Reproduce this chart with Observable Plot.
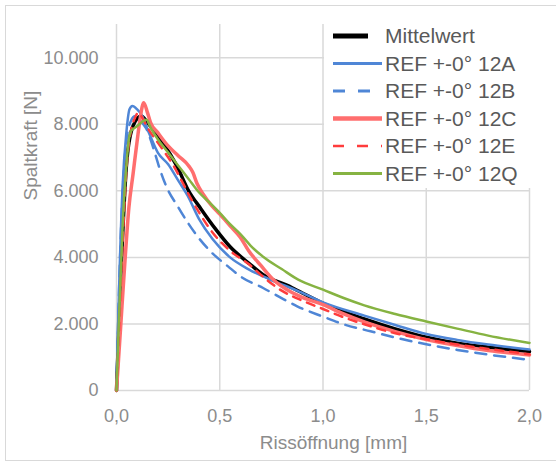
<!DOCTYPE html>
<html>
<head>
<meta charset="utf-8">
<script src="https://cdn.jsdelivr.net/npm/d3@7"></script>
<script src="https://cdn.jsdelivr.net/npm/@observablehq/plot@0.6"></script>
<style>
  body { margin: 0; background: #fff; }
  #chart { position: relative; width: 556px; height: 462px; overflow: hidden; font-family: "Liberation Sans", sans-serif; }
  #frame { position: absolute; left: 5px; top: 5px; width: 600px; height: 456px; border: 1.5px solid #d9d9d9; box-sizing: border-box; }
  #chart svg { position: absolute; left: 0; top: 0; }
</style>
</head>
<body>
<div id="chart"><div id="frame"></div></div>
<script>
// Axis ticks and their German-formatted labels
const xTicks = [0, 0.5, 1, 1.5, 2];
const xTickLabels = ["0,0", "0,5", "1,0", "1,5", "2,0"];
const yTicks = [0, 2000, 4000, 6000, 8000, 10000];
const yTickLabels = ["0", "2.000", "4.000", "6.000", "8.000", "10.000"];

// Series names (legend order)
const seriesNames = ["Mittelwert", "REF +-0° 12A", "REF +-0° 12B", "REF +-0° 12C", "REF +-0° 12E", "REF +-0° 12Q"];

// Crack opening [mm] and splitting force [N] per specimen
const mittelwertX = [0, 0.02, 0.05, 0.08, 0.12, 0.15, 0.2, 0.26, 0.3, 0.345, 0.41, 0.48, 0.55, 0.65, 0.71, 0.83, 0.9, 1.0, 1.2, 1.35, 1.5, 1.65, 1.8, 2.0];
const mittelwertY = [0, 3300, 6900, 7950, 8250, 8050, 7650, 7100, 6650, 6050, 5450, 4850, 4320, 3780, 3480, 3150, 2930, 2620, 2150, 1850, 1600, 1420, 1300, 1170];

const ref12AX = [0, 0.01, 0.03, 0.047, 0.063, 0.077, 0.1, 0.12, 0.16, 0.2, 0.25, 0.3, 0.345, 0.4, 0.465, 0.55, 0.64, 0.75, 0.875, 1.0, 1.2, 1.35, 1.5, 1.65, 1.8, 2.0];
const ref12AY = [0, 2500, 6200, 7700, 8450, 8550, 8450, 8300, 7700, 7150, 6800, 6300, 5850, 5150, 4550, 4000, 3640, 3320, 3000, 2650, 2250, 1970, 1700, 1520, 1380, 1230];

const ref12BX = [0, 0.01, 0.03, 0.05, 0.07, 0.09, 0.11, 0.13, 0.15, 0.17, 0.19, 0.21, 0.24, 0.3, 0.35, 0.39, 0.46, 0.54, 0.6, 0.71, 0.81, 0.875, 1.0, 1.1, 1.23, 1.35, 1.5, 1.65, 1.8, 2.0];
const ref12BY = [0, 2500, 6000, 7600, 8100, 8250, 8150, 8000, 7800, 7450, 7050, 6650, 6150, 5500, 5000, 4650, 4150, 3730, 3430, 3080, 2740, 2530, 2220, 1990, 1780, 1590, 1390, 1220, 1080, 920];

const ref12CX = [0, 0.02, 0.04, 0.06, 0.08, 0.1, 0.115, 0.132, 0.15, 0.165, 0.2, 0.25, 0.3, 0.35, 0.37, 0.39, 0.42, 0.46, 0.5, 0.55, 0.6, 0.64, 0.7, 0.76, 0.82, 0.9, 1.0, 1.1, 1.2, 1.35, 1.5, 1.65, 1.8, 2.0];
const ref12CY = [0, 1900, 3800, 5500, 6500, 7500, 8200, 8650, 8350, 8050, 7750, 7350, 7050, 6750, 6550, 6220, 5900, 5560, 5300, 4950, 4600, 4200, 3750, 3330, 3050, 2800, 2580, 2300, 2060, 1770, 1530, 1350, 1200, 1070];

const ref12EX = [0, 0.01, 0.03, 0.05, 0.07, 0.09, 0.105, 0.12, 0.15, 0.2, 0.24, 0.276, 0.32, 0.362, 0.41, 0.465, 0.55, 0.64, 0.713, 0.8, 0.9, 1.0, 1.1, 1.2, 1.35, 1.5, 1.65, 1.8, 2.0];
const ref12EY = [0, 1500, 4500, 6800, 7800, 8200, 8350, 8250, 7900, 7450, 7100, 6760, 6250, 5750, 5250, 4750, 4200, 3800, 3400, 3000, 2700, 2450, 2200, 1990, 1720, 1540, 1380, 1250, 1090];

const ref12QX = [0, 0.01, 0.03, 0.047, 0.06, 0.071, 0.09, 0.11, 0.13, 0.145, 0.165, 0.2, 0.25, 0.3, 0.35, 0.4, 0.45, 0.5, 0.55, 0.6, 0.65, 0.71, 0.8, 0.88, 1.0, 1.1, 1.2, 1.35, 1.5, 1.65, 1.8, 2.0];
const ref12QY = [0, 1800, 5000, 6700, 7550, 7800, 7900, 8000, 8100, 8140, 7900, 7550, 7150, 6750, 6350, 5950, 5650, 5340, 5000, 4700, 4350, 4020, 3650, 3330, 3030, 2780, 2560, 2300, 2075, 1860, 1650, 1430];

const seriesX = [mittelwertX, ref12AX, ref12BX, ref12CX, ref12EX, ref12QX];
const seriesY = [mittelwertY, ref12AY, ref12BY, ref12CY, ref12EY, ref12QY];

// Line styles per series
const styles = [
  {stroke: "#000000", strokeWidth: 3.5, dash: null,    legendWidth: 5,   legendEnd: 368},
  {stroke: "#4f86d6", strokeWidth: 2.5, dash: null,    legendWidth: 3,   legendEnd: 382},
  {stroke: "#4f86d6", strokeWidth: 2.5, dash: "11,8",  legendWidth: 3,   legendEnd: 382, legendDash: "12,13"},
  {stroke: "#ff6e6e", strokeWidth: 3.5, dash: null,    legendWidth: 4.5, legendEnd: 382},
  {stroke: "#ff3c3c", strokeWidth: 2.5, dash: "8,7",   legendWidth: 2.5, legendEnd: 382, legendDash: "11,13"},
  {stroke: "#86b342", strokeWidth: 2.5, dash: null,    legendWidth: 3,   legendEnd: 382}
];

const rows = seriesNames.map((name, s) =>
  seriesX[s].map((x, i) => ({series: name, x, y: seriesY[s][i]}))
);

const fmt = (ticks, labels) => d => labels[ticks.indexOf(d)];

const lineMarks = rows.map((data, s) =>
  Plot.line(data, {
    x: "x", y: "y",
    stroke: styles[s].stroke,
    strokeWidth: styles[s].strokeWidth,
    strokeDasharray: styles[s].dash,
    curve: "monotone-x",
    strokeLinejoin: "round"
  })
);

const chart = Plot.plot({
  width: 556,
  height: 462,
  marginLeft: 116,
  marginRight: 27,
  marginTop: 24,
  marginBottom: 72,
  style: {fontFamily: "Liberation Sans, sans-serif", fontSize: "18px", background: "transparent", overflow: "visible"},
  x: {domain: [0, 2]},
  y: {domain: [0, 11000]},
  marks: [
    Plot.gridY(yTicks, {stroke: "#d9d9d9", strokeOpacity: 1, strokeWidth: 1.5}),
    Plot.gridX(xTicks, {stroke: "#d9d9d9", strokeOpacity: 1, strokeWidth: 1.5}),
    Plot.axisY(yTicks, {tickSize: 0, tickPadding: 18, tickFormat: fmt(yTicks, yTickLabels), label: null, fill: "#8c8c8c", fontSize: 18}),
    Plot.axisX(xTicks, {tickSize: 0, tickPadding: 19, tickFormat: fmt(xTicks, xTickLabels), label: null, fill: "#8c8c8c", fontSize: 18}),
    Plot.text(["Spaltkraft [N]"], {frameAnchor: "left", dx: -86, dy: -7, rotate: -90, fill: "#8c8c8c", fontSize: 19}),
    Plot.text(["Rissöffnung [mm]"], {frameAnchor: "bottom", dx: 10.5, dy: 58, fill: "#8c8c8c", fontSize: 19}),
    ...lineMarks
  ]
});

const container = document.getElementById("chart");
container.appendChild(chart);

// Legend box drawn over the upper right of the plot area
const legend = d3.create("svg")
  .attr("width", 556)
  .attr("height", 462)
  .style("pointer-events", "none");

legend.append("rect")
  .attr("x", 324).attr("y", 22)
  .attr("width", 212).attr("height", 166)
  .attr("fill", "#ffffff");

const rowY = [36, 63.5, 91, 118.5, 146, 173.5];
seriesNames.forEach((name, i) => {
  const st = styles[i];
  legend.append("line")
    .attr("x1", 333).attr("x2", st.legendEnd)
    .attr("y1", rowY[i]).attr("y2", rowY[i])
    .attr("stroke", st.stroke)
    .attr("stroke-width", st.legendWidth)
    .attr("stroke-dasharray", st.legendDash || null);
  legend.append("text")
    .attr("x", 385).attr("y", rowY[i])
    .attr("dy", "0.35em")
    .attr("fill", "#595959")
    .attr("font-family", "Liberation Sans, sans-serif")
    .attr("font-size", 21)
    .text(name);
});

container.appendChild(legend.node());
</script>
</body>
</html>
